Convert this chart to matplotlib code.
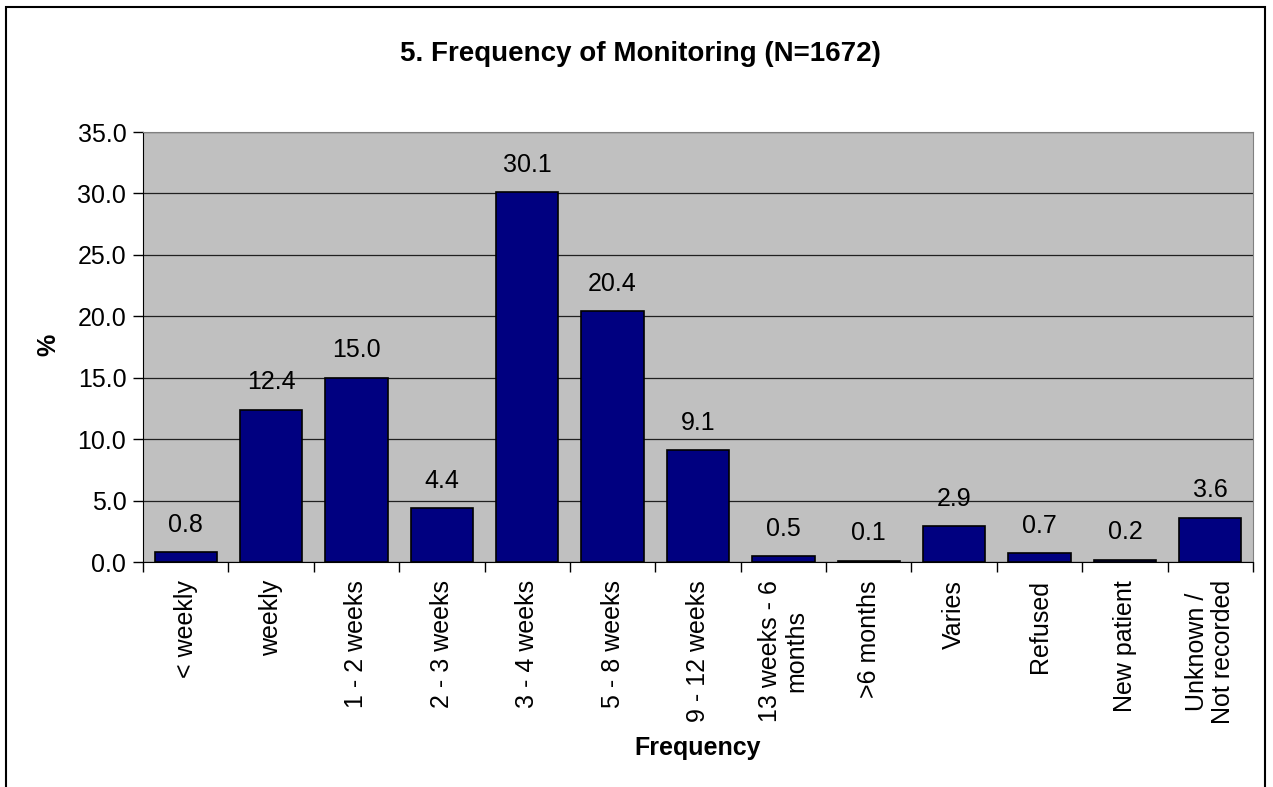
import matplotlib.pyplot as plt
from matplotlib.patches import Rectangle

plt.rcParams['font.family'] = ['Liberation Sans', 'DejaVu Sans']

# categories and values (%)
categories = ['< weekly', 'weekly', '1 - 2 weeks', '2 - 3 weeks', '3 - 4 weeks',
              '5 - 8 weeks', '9 - 12 weeks', '13 weeks - 6\nmonths', '>6 months',
              'Varies', 'Refused', 'New patient', 'Unknown /\nNot recorded']
values = [0.8, 12.4, 15.0, 4.4, 30.1, 20.4, 9.1, 0.5, 0.1, 2.9, 0.7, 0.2, 3.6]
yticks = [0, 5, 10, 15, 20, 25, 30, 35]

fig = plt.figure(figsize=(12.73, 7.87), dpi=100)
# outer chart frame
fig.patches.append(Rectangle((6 / 1273, -0.01), 1259 / 1273, 1 - 7 / 787 + 0.01,
                             transform=fig.transFigure, fill=False,
                             edgecolor='black', linewidth=1.5))

ax = fig.add_axes([143 / 1273, 1 - 562 / 787, 1110 / 1273, 430 / 787])
ax.set_facecolor('#C0C0C0')

x = list(range(len(categories)))
ax.bar(x, values, width=0.73, color='#000080', edgecolor='black', linewidth=1.2, zorder=3)

for xi, v in zip(x, values):
    ax.annotate(f'{v:.1f}', (xi, v), xytext=(0, 11), textcoords='offset points',
                ha='center', va='bottom', fontsize=18)

ax.set_xlim(-0.5, len(categories) - 0.5)
ax.set_ylim(0, 35)
ax.set_yticks(yticks)
ax.set_yticklabels([f'{t:.1f}' for t in yticks], fontsize=18)
ax.yaxis.grid(True, color='#202020', linewidth=0.9, zorder=1)
ax.set_axisbelow(True)

# category labels centred, ticks at boundaries
ax.set_xticks(x)
ax.set_xticklabels(categories, rotation=90, fontsize=18, ha='center', va='top',
                   multialignment='center', linespacing=1.1)
ax.tick_params(axis='x', length=0, pad=13)
ax.set_xticks([i - 0.5 for i in range(len(categories) + 1)], minor=True)
ax.tick_params(axis='x', which='minor', length=7, width=1, direction='out')
ax.tick_params(axis='y', length=7, width=1, direction='out', pad=5)

for s in ['top', 'right']:
    ax.spines[s].set_color('#808080')
ax.spines['left'].set_color('black')
ax.spines['bottom'].set_color('black')

fig.text(640 / 1273, 1 - 61 / 787, '5. Frequency of Monitoring (N=1672)',
         ha='center', va='baseline', fontsize=20, fontweight='bold')
fig.text(48 / 1273, 1 - 345 / 787, '%', ha='center', va='center', rotation=90,
         fontsize=18, fontweight='bold')
fig.text(698 / 1273, 1 - 748 / 787, 'Frequency', ha='center', va='center',
         fontsize=18, fontweight='bold')

fig.savefig('out.png', dpi=100)
